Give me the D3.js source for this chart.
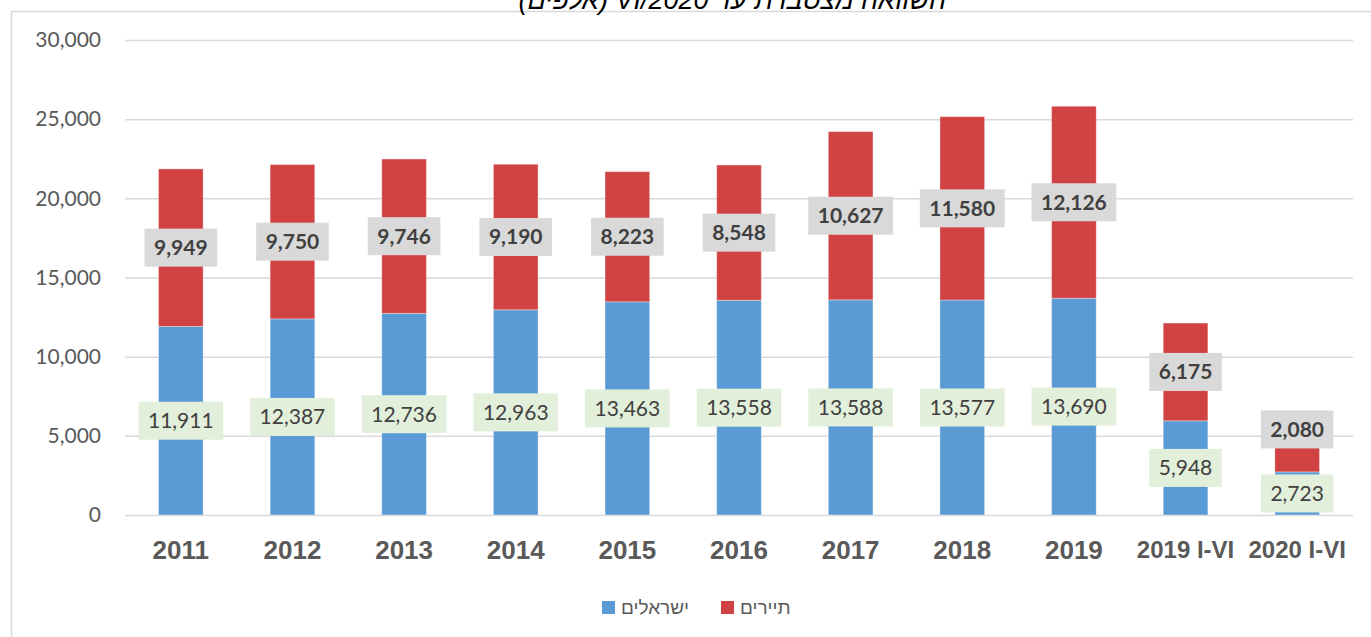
<!DOCTYPE html>
<html>

<head>
  <meta charset="utf-8">
  <title>Stacked bars</title>
  <script src="https://cdn.jsdelivr.net/npm/d3@7"></script>
  <style>
    body { margin: 0; background: #fff; }
  </style>
</head>

<body>
  <svg width="1371" height="637" id="mainsvg"></svg>

  <script>
    // data
    const categories = ['2011', '2012', '2013', '2014', '2015', '2016', '2017', '2018', '2019', '2019 I-VI', '2020 I-VI'];
    const israelis = [11911, 12387, 12736, 12963, 13463, 13558, 13588, 13577, 13690, 5948, 2723];
    const tourists = [9949, 9750, 9746, 9190, 8223, 8548, 10627, 11580, 12126, 6175, 2080];
    const yTicks = [0, 5000, 10000, 15000, 20000, 25000, 30000];
    const seriesNames = ['ישראלים', 'תיירים'];
    const colors = ['#5B9BD5', '#D14343'];

    const svg = d3.select('#mainsvg');
    const margin = { top: 40, left: 125, right: 18, bottom: 122 };
    const width = +svg.attr('width');
    const height = +svg.attr('height');

    const table = categories.map((c, i) => ({ cat: c, isr: israelis[i], tour: tourists[i] }));
    const stacked = d3.stack().keys(['isr', 'tour'])(table);

    const x = d3.scaleBand().domain(categories)
      .range([margin.left, width - margin.right])
      .paddingInner(0.6).paddingOuter(0.3);
    const y = d3.scaleLinear().domain([0, 30000]).range([height - margin.bottom, margin.top]);

    // chart frame (cut off at right / bottom)
    svg.append('path')
      .attr('d', `M11.5,${height} V11.5 H${width}`)
      .attr('fill', 'none').attr('stroke', '#D9D9D9').attr('stroke-width', 1.5);

    // title, cut off at the top like in the original screenshot
    svg.append('text')
      .text('השוואה מצטברת עד VI/2020 (אלפים)')
      .attr('direction', 'rtl')
      .attr('x', 946).attr('y', 9)
      .attr('font-family', 'Liberation Sans, DejaVu Sans, sans-serif')
      .attr('font-size', 27).attr('font-style', 'italic')
      .attr('fill', '#000');

    // gridlines + y labels
    const yAxis = d3.axisLeft(y).tickValues(yTicks).tickSize(-(width - margin.right - margin.left))
      .tickPadding(24).tickFormat(d3.format(','));
    const yg = svg.append('g').attr('transform', `translate(${margin.left},0)`).call(yAxis);
    yg.select('.domain').remove();
    yg.selectAll('.tick line').attr('stroke', '#D9D9D9').attr('stroke-width', 1.5);
    yg.selectAll('.tick text').attr('font-family', 'Lato, sans-serif').attr('font-size', 21).attr('fill', '#595959');

    // bars
    svg.append('g').selectAll('g').data(stacked).join('g')
      .attr('fill', (d, i) => colors[i])
      .selectAll('rect').data(d => d).join('rect')
      .attr('x', d => x(d.data.cat))
      .attr('width', x.bandwidth())
      .attr('y', d => y(d[1]))
      .attr('height', d => y(d[0]) - y(d[1]))
      .attr('stroke', 'rgba(255,255,255,0.35)').attr('stroke-width', 1);

    // x labels
    const xAxis = d3.axisBottom(x).tickSize(0).tickPadding(26);
    const xg = svg.append('g').attr('transform', `translate(0,${y(0)})`).call(xAxis);
    xg.select('.domain').remove();
    xg.selectAll('.tick text')
      .attr('font-family', 'Liberation Sans, Arial, sans-serif').attr('font-weight', 'bold')
      .attr('font-size', d => d.includes('I-VI') ? 24 : 26).attr('fill', '#595959');

    // data labels with boxes
    function addLabel(cx, cy, txt, bold, bg) {
      const g = svg.append('g');
      const rect = g.append('rect').attr('fill', bg);
      const t = g.append('text').text(txt)
        .attr('x', cx).attr('y', cy).attr('dy', '0.35em')
        .attr('text-anchor', 'middle')
        .attr('font-family', 'Lato, sans-serif').attr('font-size', 21)
        .attr('font-weight', bold ? 'bold' : 'normal').attr('fill', '#404040');
      const w = t.node().getComputedTextLength() + 19;
      rect.attr('x', cx - w / 2).attr('y', cy - 19).attr('width', w).attr('height', 38);
    }
    const fmt = d3.format(',');
    categories.forEach((c, i) => {
      const cx = x(c) + x.bandwidth() / 2;
      const b = stacked[0][i], r = stacked[1][i];
      const cyB = y((b[0] + b[1]) / 2);
      let cyR = y((r[0] + r[1]) / 2);
      if (cyB - cyR < 42) cyR = cyB - 64; // keep labels from overlapping
      addLabel(cx, cyB, fmt(israelis[i]), false, '#E2EFDA');
      addLabel(cx, cyR, fmt(tourists[i]), true, '#D9D9D9');
    });

    // legend
    const legendX = [602, 721];
    const lg = svg.append('g');
    seriesNames.forEach((n, i) => {
      lg.append('rect').attr('x', legendX[i]).attr('y', 601).attr('width', 13).attr('height', 13).attr('fill', colors[i]);
      lg.append('text').text(n).attr('x', legendX[i] + 19).attr('y', 614)
        .attr('font-family', 'Liberation Sans, DejaVu Sans, sans-serif').attr('font-size', 19).attr('fill', '#595959');
    });
  </script>
</body>

</html>
